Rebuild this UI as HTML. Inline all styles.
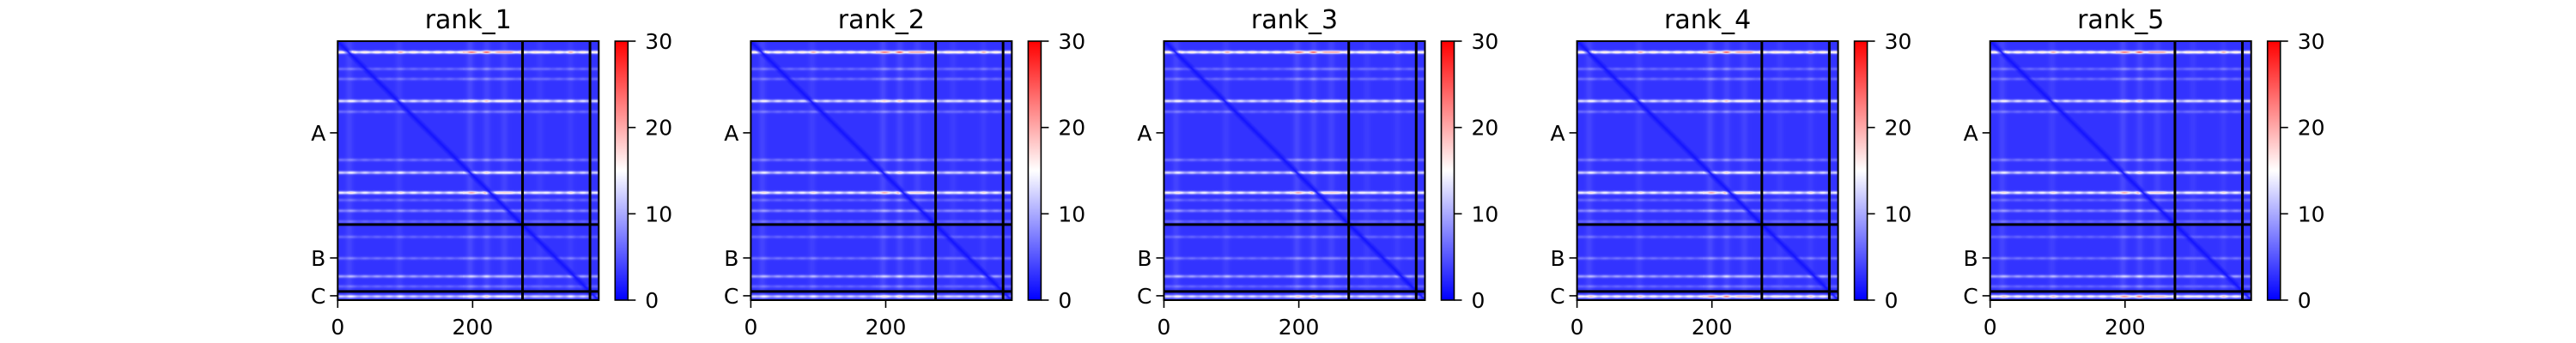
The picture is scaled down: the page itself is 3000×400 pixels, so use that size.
<!DOCTYPE html>
<html><head><meta charset="utf-8">
<style>
html,body{margin:0;padding:0;background:#fff;}
#root{position:relative;width:3000px;height:400px;overflow:hidden;background:#fff;}
canvas{position:absolute;image-rendering:auto;}
svg{position:absolute;left:0;top:0;}
text{font-family:"DejaVu Sans","Liberation Sans",sans-serif;fill:#000;}
</style></head>
<body>
<div id="root">
<svg id="ov" width="3000" height="400"></svg>
</div>
<script>
// ---- data ----
const panelTitles = ["rank_1","rank_2","rank_3","rank_4","rank_5"];
const chainNames = ["A","B","C"];
const chainLengths = [274, 100, 13];
const xTickValues = [0, 200];
const cbarTicks = [0, 10, 20, 30];
const vmin = 0, vmax = 30;
const baseValue = 3.0;
// horizontal stripes (row index, peak error)
const stripeRows = [16, 41, 56, 89, 105, 177, 196, 226, 237, 253, 269, 292, 324, 351, 366, 381];
const stripePeaks = [21, 7, 7, 16, 7, 7.5, 15, 18, 6.5, 9, 6.5, 6.5, 7.5, 11, 6.5, 15];
// vertical brighter bands (column index, added value)
const bandCols = [17, 91, 196, 221, 247, 300, 345];
const bandAmps = [2.0, 1.5, 2.5, 2.0, 2.0, 1.2, 1.2];
// per-panel strength of chain C stripe
const panelCPeak = [15, 15, 16, 19, 19];

const NS = "http://www.w3.org/2000/svg";
const ov = document.getElementById('ov');
const N = chainLengths.reduce((a,b)=>a+b,0);
const PX0 = 393.3, PSTEP = 481.1, PW = 304, PY0 = 48, PH = 302;

function bwr(v){
  let t = Math.max(0, Math.min(1, (v - vmin) / (vmax - vmin)));
  if (t < 0.5){ const u = t/0.5; return [Math.round(255*u), Math.round(255*u), 255]; }
  const u = (t-0.5)/0.5; return [255, Math.round(255*(1-u)), Math.round(255*(1-u))];
}
function el(tag, attrs, parent){
  const e = document.createElementNS(NS, tag);
  for (const k in attrs) e.setAttribute(k, attrs[k]);
  (parent||ov).appendChild(e); return e;
}
function value(i, j, p){
  let colBoost = 0;
  for (let b=0;b<bandCols.length;b++){ const d=j-bandCols[b]; colBoost += bandAmps[b]*Math.exp(-d*d/30); }
  let v = baseValue + 0.5*colBoost;
  const cf = 0.7 + 0.1*colBoost + (j>185 && j<274 ? 0.15 : 0) + 0.12*Math.sin(j*0.35);
  for (let s=0;s<stripeRows.length;s++){
    const d = i - stripeRows[s];
    if (Math.abs(d) > 7) continue;
    let pk = stripePeaks[s];
    if (s === stripeRows.length-1) pk = panelCPeak[p];
    v += (pk - baseValue) * Math.exp(-d*d/5) * cf;
  }
  const dd = Math.abs(i-j);
  if (dd < 8) v = v*(dd/8) + 1.2*(1-dd/8);
  return v;
}

panelTitles.forEach((title, p) => {
  const ox = PX0 + PSTEP*p;
  const cv = document.createElement('canvas');
  cv.width = N; cv.height = N;
  cv.style.left = ox+'px'; cv.style.top = PY0+'px';
  cv.style.width = PW+'px'; cv.style.height = PH+'px';
  
  
  document.getElementById('root').insertBefore(cv, ov);
  const ctx = cv.getContext('2d');
  const img = ctx.createImageData(N, N);
  for (let i=0;i<N;i++) for (let j=0;j<N;j++){
    const c = bwr(value(i,j,p)); const k=(i*N+j)*4;
    img.data[k]=c[0]; img.data[k+1]=c[1]; img.data[k+2]=c[2]; img.data[k+3]=255;
  }
  ctx.putImageData(img,0,0);

  const g = el('g', {});
  
  
  const sx = v => ox + v*PW/N, sy = v => PY0 + v*PH/N;

  let acc = 0;
  for (let c=0;c<chainLengths.length-1;c++){
    acc += chainLengths[c];
    const lv = el('line', {x1:sx(acc), x2:sx(acc), y1:PY0, y2:PY0+PH, stroke:'#000','stroke-width':3}, g);
    
    
    const lh = el('line', {x1:ox, x2:ox+PW, y1:sy(acc), y2:sy(acc), stroke:'#000','stroke-width':3}, g);
    
    
  }
  const fr = el('rect', {x:ox, y:PY0, width:PW, height:PH, fill:'none', stroke:'#000','stroke-width':2}, g);
  
  

  const t = el('text', {x:ox+PW/2, y:33, 'font-size':30, 'text-anchor':'middle'}, g);
  t.textContent = title;
  
  

  acc = 0;
  chainNames.forEach((nm, c) => {
    const mid = acc + chainLengths[c]/2; acc += chainLengths[c];
    const y = sy(mid);
    el('line', {x1:ox-9, x2:ox, y1:y, y2:y, stroke:'#000','stroke-width':1.6}, g);
    const lt = el('text', {x:ox-14, y:y+9, 'font-size':25, 'text-anchor':'end'}, g);
    lt.textContent = nm;
    
    
  });
  xTickValues.forEach(v => {
    const x = sx(v);
    el('line', {x1:x, x2:x, y1:PY0+PH, y2:PY0+PH+9, stroke:'#000','stroke-width':1.6}, g);
    const lt = el('text', {x:x, y:390, 'font-size':25, 'text-anchor':'middle'}, g);
    lt.textContent = v;
    
    
  });

  const cx = ox+323, cw = 15;
  const gid = 'cb'+p;
  const defs = el('defs', {}, g);
  const lg = el('linearGradient', {id:gid, x1:0, y1:1, x2:0, y2:0}, defs);
  [0,0.5,1].forEach(o => { const c = bwr(vmin + o*(vmax-vmin)); el('stop', {offset:o, 'stop-color':`rgb(${c})`}, lg); });
  const cb = el('rect', {x:cx, y:PY0, width:cw, height:PH, fill:`url(#${gid})`, stroke:'#000','stroke-width':1.6}, g);
  
  
  cbarTicks.forEach(v => {
    const y = PY0 + PH*(1-(v-vmin)/(vmax-vmin));
    el('line', {x1:cx+cw, x2:cx+cw+9, y1:y, y2:y, stroke:'#000','stroke-width':1.6}, g);
    const lt = el('text', {x:cx+cw+20, y:y+9, 'font-size':25}, g);
    lt.textContent = v;
    
    
  });
});
</script>
</body></html>
